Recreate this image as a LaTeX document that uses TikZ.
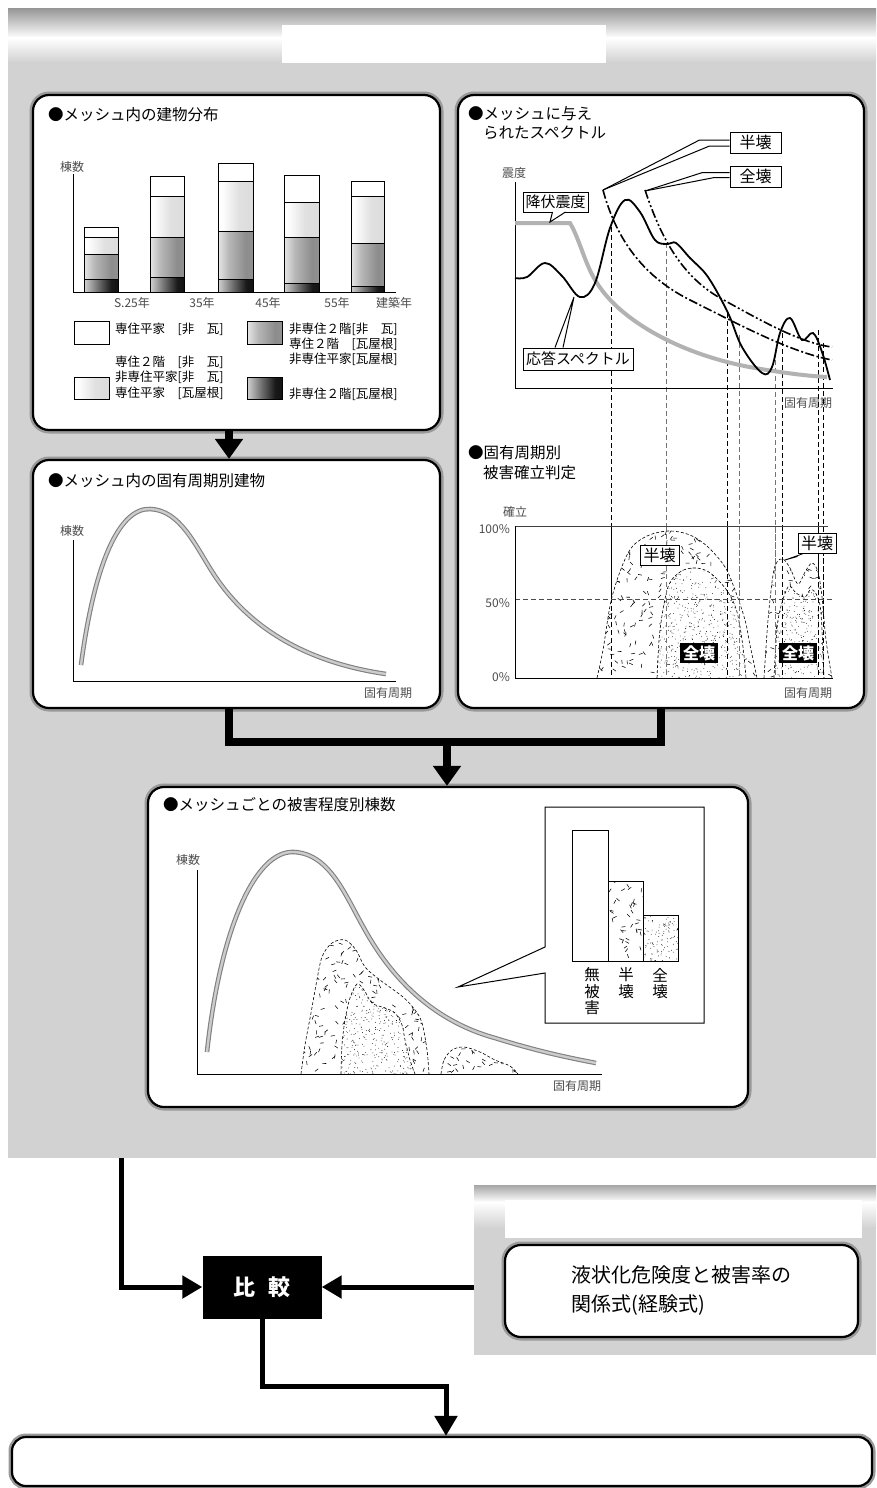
\documentclass[tikz,border=0pt]{standalone}
\usepackage{fontspec}
\setmainfont{Noto Sans CJK JP}
\usetikzlibrary{arrows.meta,calc}
\definecolor{bgg}{HTML}{D2D2D2}
\pgfdeclarehorizontalshading{shlight}{100bp}{color(0bp)=(white); color(30bp)=(white); color(55bp)=(black!12); color(100bp)=(black!16)}
\pgfdeclarehorizontalshading{shmed}{100bp}{color(0bp)=(white); color(22bp)=(black!6); color(40bp)=(black!28); color(65bp)=(black!45); color(100bp)=(black!38)}
\pgfdeclarehorizontalshading{shdark}{100bp}{color(0bp)=(white); color(22bp)=(black!12); color(45bp)=(black!55); color(65bp)=(black!90); color(100bp)=(black)}
\newcommand\rdash[5]{\foreach \k in {1,...,#5}{\pgfmathsetmacro\rx{#1+rnd*(#3-#1)}\pgfmathsetmacro\ry{#2+rnd*(#4-#2)}\pgfmathsetmacro\ra{rnd*180}\draw[line width=0.55pt] (\rx,\ry) -- ++(\ra:4pt);}}
\newcommand\rdots[5]{\foreach \k in {1,...,#5}{\pgfmathsetmacro\rx{#1+rnd*(#3-#1)}\pgfmathsetmacro\ry{#2+rnd*(#4-#2)}\fill (\rx,\ry) circle[radius=0.42pt];}}
\newcommand\halfblob[6]{%
  \fill[white] plot[smooth,tension=0.55] coordinates {#1} -- cycle;
  \begin{scope}
    \clip plot[smooth,tension=0.55] coordinates {#1} -- cycle;
    \rdash{#2}{#3}{#4}{#5}{#6}
  \end{scope}
  \draw[blobline] plot[smooth,tension=0.55] coordinates {#1};}
\newcommand\fullblob[6]{%
  \fill[white] plot[smooth,tension=0.55] coordinates {#1} -- cycle;
  \begin{scope}
    \clip plot[smooth,tension=0.55] coordinates {#1} -- cycle;
    \rdots{#2}{#3}{#4}{#5}{#6}
  \end{scope}
  \draw[blobline] plot[smooth,tension=0.55] coordinates {#1};}
\begin{document}
\begin{tikzpicture}[x=1pt,y=-1pt,
  panel/.style={draw=black, line width=2.2pt, fill=white, rounded corners=16pt, preaction={draw=black!40, line width=7pt}, inner sep=0pt},
  flow/.style={line width=8pt, -{Triangle[width=27pt,length=20pt]}},
  barline/.style={line width=8pt},
  flow2/.style={line width=5pt, -{Triangle[width=22pt,length=20pt]}},
  ttl/.style={font=\fontsize{15.5}{18}\selectfont, anchor=west, inner sep=0pt},
  ax/.style={font=\fontsize{12}{14}\selectfont, text=black!70, inner sep=0pt},
  lg/.style={font=\fontsize{12.5}{15}\selectfont, anchor=west, inner sep=0pt},
  axis/.style={line width=1pt, draw=black},
  sw/.style={draw=black, line width=0.8pt},
  gcurve/.style={draw=black!50, line width=1.1pt, double=black!20, double distance=2.4pt},
  blobline/.style={line width=0.6pt, dash pattern=on 3pt off 2pt},
  lbl/.style={draw=black, line width=1pt, fill=white, inner sep=0pt, font=\fontsize{16}{18}\selectfont},
  lblk/.style={fill=black, text=white, inner sep=0pt, font=\fontsize{16}{18}\selectfont\bfseries},
  hdc/.style={line width=1.6pt, dash pattern=on 9pt off 2.5pt on 2pt off 2.5pt},
  zdc/.style={line width=1.6pt, dash pattern=on 9pt off 2.5pt on 2pt off 2.5pt on 2pt off 2.5pt},
  vd/.style={line width=0.8pt, dash pattern=on 5pt off 3pt},
  inl/.style={font=\fontsize{15.5}{17}\selectfont, inner sep=0pt}]
\pgfmathsetseed{4242}
\useasboundingbox (0,0) rectangle (876,1488);
\fill[white] (0,0) rectangle (876,1488);
% backgrounds
\fill[bgg] (8,9) rectangle (876,1158);
\shade[top color=black!40, bottom color=white] (8,9) rectangle (876,38);
\shade[top color=white, bottom color=bgg] (8,38) rectangle (876,62);
\fill[white] (282,25) rectangle (606,63);
\fill[bgg] (474,1185) rectangle (876,1355);
\shade[top color=black!35, bottom color=white] (474,1185) rectangle (876,1202);
\shade[top color=white, bottom color=bgg] (474,1202) rectangle (876,1228);
\fill[white] (505,1200) rectangle (862,1238);

% panels
\node[panel, minimum width=407pt, minimum height=335pt] (p1) at (236.5,262.5) {};
\node[panel, minimum width=407pt, minimum height=248pt] (p2) at (236.5,584) {};
\node[panel, minimum width=406pt, minimum height=613pt] (p3) at (661,401.5) {};
\node[panel, minimum width=600pt, minimum height=320pt] (p4) at (448,947) {};
\node[panel, minimum width=353pt, minimum height=92pt, align=left, font=\fontsize{20}{29}\selectfont] (p5) at (681.5,1291) {液状化危険度と被害率の\\関係式(経験式)};
\node[panel, rounded corners=14pt, minimum width=860pt, minimum height=49pt] (p6) at (442,1461.5) {};

% connectors
\coordinate (jl) at (229,742);
\coordinate (jr) at (661,742);
\coordinate (jm) at (447,742);
\draw[flow] (p1.south -| jl) -- (p2.north -| jl);
\draw[barline] (p2.south -| jl) -- (jl) -- (jr) -- (p3.south);
\draw[flow] (jm) -- (p4.north -| jm);
\node[fill=black, text=white, minimum width=119pt, minimum height=63pt, inner sep=0pt, font=\fontsize{22}{24}\selectfont\bfseries] (cmp) at (262,1287) {比\hspace{0.55em}較};
\coordinate (lt) at (121,1158);
\coordinate (rt) at (474,1287);
\coordinate (bend) at (446,1386);
\draw[flow2] (lt) |- (cmp.west);
\draw[flow2] (rt) -- (cmp.east);
\draw[flow2] (cmp.south) |- (bend) -- (bend |- p6.north);

% ---------- P1 ----------
\node[ttl] (t1) at (48,115) {●メッシュ内の建物分布};
\node[ax] (y1) at (72,167) {棟数};
\draw[axis] (73,174) -- (73,292) -- (396,292);
\foreach \xa/\xb/\ya/\yb/\yc/\yd in {84/118/227/237/254/279, 150/184/176/196/237/277, 218/253/163/181/231/279, 284/319/175/202/237/283, 351/384/181/196/243/286}{
  \draw[sw, fill=white] (\xa,\ya) rectangle (\xb,\yb);
  \draw[sw, shading=shlight] (\xa,\yb) rectangle (\xb,\yc);
  \draw[sw, shading=shmed] (\xa,\yc) rectangle (\xb,\yd);
  \draw[sw, shading=shdark] (\xa,\yd) rectangle (\xb,292);
}
\draw[axis] (73,292) -- (396,292);
\node[ax] (xl1) at (132,303) {S.25年};
\node[ax] (xl2) at (202,303) {35年};
\node[ax] (xl3) at (268,303) {45年};
\node[ax] (xl4) at (337,303) {55年};
\node[ax] (xl5) at (394,303) {建築年};
\draw[sw, fill=white] (74,321) rectangle (109,344);
\draw[sw, shading=shmed] (247,321) rectangle (282,344);
\draw[sw, shading=shlight] (74,377) rectangle (109,399);
\draw[sw, shading=shdark] (247,377) rectangle (282,399);
\node[lg] (lg1) at (115,329) {専住平家　[非　瓦]};
\node[lg] (lg2) at (289,329) {非専住２階[非　瓦]};
\node[lg] (lg3) at (289,344) {専住２階　[瓦屋根]};
\node[lg] (lg4) at (289,359) {非専住平家[瓦屋根]};
\node[lg] (lg5) at (115,362) {専住２階　[非　瓦]};
\node[lg] (lg6) at (115,377) {非専住平家[非　瓦]};
\node[lg] (lg7) at (115,393) {専住平家　[瓦屋根]};
\node[lg] (lg8) at (289,394) {非専住２階[瓦屋根]};

% ---------- P2 ----------
\node[ttl] (t2) at (48,481) {●メッシュ内の固有周期別建物};
\node[ax] (y2) at (72,531) {棟数};
\draw[axis] (73,540) -- (73,681) -- (396,681);
\node[ax] (x2) at (388,693) {固有周期};
\draw[gcurve] (81,665) .. controls (95,560) and (120,508) .. (150,509) .. controls (180,510) and (195,545) .. (213,573) .. controls (240,615) and (290,660) .. (386,674);

% ---------- P3 upper ----------
\node[ttl] (t3) at (468,114) {●メッシュに与え};
\node[ttl] (t3b) at (483,133) {られたスペクトル};
\node[ax] (y3) at (514,173) {震度};
\node[ax] (x3) at (808,403) {固有周期};
\draw[vd] (611,227) -- (611,678);
\draw[vd, black!55] (666,243) -- (666,678);
\draw[vd] (727,313) -- (727,678);
\draw[vd, black!55] (739,335) -- (739,678);
\draw[vd, black!55] (775,352) -- (775,678);
\draw[vd] (782,333) -- (782,678);
\draw[vd] (818,330) -- (818,678);
\draw[vd] (823,343) -- (823,678);
\draw[axis] (515,182) -- (515,388) -- (833,388);
\draw[line width=4pt, black!30] (515,223) -- (570,223) .. controls (580,240) and (585,265) .. (597,283) .. controls (620,320) and (680,355) .. (755,368) .. controls (790,374) and (810,376) .. (827,377);
\draw[hdc] (603,190) .. controls (615,235) and (640,275) .. (690,300) .. controls (740,325) and (790,352) .. (832,360);
\draw[zdc] (645,190) .. controls (660,235) and (680,275) .. (720,298) .. controls (760,320) and (800,343) .. (832,347);
\draw[line width=1.8pt] plot[smooth, tension=0.6] coordinates {(515,278) (527,277) (545,263) (562,276) (580,297) (595,283) (610,228) (625,200) (640,212) (655,240) (668,244) (676,243) (690,258) (708,277) (728,313) (742,347) (762,373) (772,367) (780,333) (790,318) (802,340) (813,333) (822,352) (830,380)};
\node[lbl, minimum width=65pt, minimum height=20pt, font=\fontsize{15}{17}\selectfont] (kofuku) at (555.5,202) {降伏震度};
\fill[white] (552.5,211.5) -- (550,222) -- (565.5,211.5) -- cycle;
\draw[line width=1pt] (552.5,212) -- (550,222) -- (565.5,212);
\node[lbl, minimum width=51pt, minimum height=21pt] (hk1) at (755.5,142.5) {半壊};
\node[lbl, minimum width=51pt, minimum height=21pt] (zk1) at (755.5,176.5) {全壊};
\coordinate (tipH) at (603,190);
\coordinate (tipZ) at (645,191);
\draw[line width=1pt] ([yshift=2.5pt]hk1.west) -- ++(-30,0) -- (tipH);
\draw[line width=1pt] ([yshift=-3.5pt]hk1.west) -- ++(-20,0) -- (tipH);
\draw[line width=1pt] ([yshift=4pt]zk1.west) -- ++(-27,0) -- (tipZ);
\draw[line width=1pt] ([yshift=-1pt]zk1.west) -- ++(-15,0) -- (tipZ);
\node[lbl, minimum width=110pt, minimum height=22pt, font=\fontsize{15}{17}\selectfont] (oto) at (578,359) {応答スペクトル};
\coordinate (tipO) at (574,297);
\draw[line width=1pt] ([xshift=-23pt]oto.north) -- (tipO) -- ([xshift=-15pt]oto.north);

% ---------- P3 lower ----------
\node[ttl] (t4) at (468,453) {●固有周期別};
\node[ttl] (t4b) at (483,473) {被害確立判定};
\node[ax] (y4) at (515,512) {確立};
\node[ax, anchor=east] (p100) at (510,529) {100\%};
\node[ax, anchor=east] (p50) at (510,603) {50\%};
\node[ax, anchor=east] (p0) at (510,677) {0\%};
\node[ax] (x4) at (808,693) {固有周期};
\halfblob{(597,678) (603,650) (612,597) (628,553) (645,537) (668,531) (690,535) (708,547) (725,567) (735,590) (745,620) (750,645) (757,678)}{597}{530}{757}{678}{280}
\fullblob{(657,678) (660,630) (668,587) (680,572) (693,568) (705,570) (715,577) (728,592) (737,612) (743,647) (746,678)}{657}{567}{746}{678}{620}
\halfblob{(764,678) (768,620) (773,575) (777,562) (783,559) (790,568) (798,584) (805,572) (812,563) (818,572) (822,597) (826,640) (832,678)}{764}{558}{832}{678}{100}
\fullblob{(774,678) (778,620) (788,587) (796,593) (805,597) (810,590) (815,592) (820,605) (822,630) (824,678)}{774}{586}{824}{678}{290}
\foreach \vx/\vc in {611/black, 666/black!55, 727/black, 739/black!55, 775/black!55, 782/black, 818/black, 823/black}{
  \draw[vd, \vc] (\vx,526) -- (\vx,678);
}
\draw[line width=0.8pt, black!75] (515,526) -- (828,526);
\draw[vd, black!70] (515,599) -- (833,599);
\draw[axis] (515,526) -- (515,678) -- (833,678);
\node[lbl, minimum width=39pt, minimum height=20pt] (hk2) at (659.5,555) {半壊};
\node[lblk, minimum width=38pt, minimum height=20pt] (zk2) at (699,653) {全壊};
\node[lblk, minimum width=38pt, minimum height=20pt] (zk3) at (798,653) {全壊};
\node[lbl, minimum width=38pt, minimum height=20pt] (hk3) at (817,543) {半壊};
\coordinate (tipR) at (785,560);
\draw[line width=0.8pt] ([yshift=-3pt]hk3.south west) -- (tipR) -- ([xshift=6pt]hk3.south west);

% ---------- P4 ----------
\node[ttl] (t5) at (163,805) {●メッシュごとの被害程度別棟数};
\node[ax] (y5) at (188,860) {棟数};
\node[ax] (x5) at (577,1086) {固有周期};
\draw[gcurve] (207,1052) .. controls (220,930) and (255,850) .. (294,852) .. controls (330,854) and (345,895) .. (365,930) .. controls (390,975) and (430,1020) .. (495,1038) .. controls (540,1052) and (570,1058) .. (596,1063);
\halfblob{(301,1074) (305,1045) (311,1013) (316,985) (322,957) (332,943) (345,940) (356,950) (365,967) (380,980) (403,997) (415,1010) (422,1023) (427,1050) (429,1074)}{301}{939}{429}{1074}{220}
\fullblob{(341,1074) (342,1045) (345,1020) (350,998) (357,984) (364,990) (372,1003) (385,1008) (395,1013) (402,1025) (405,1040) (410,1060) (415,1074)}{341}{983}{415}{1074}{430}
\halfblob{(441,1074) (444,1060) (452,1050) (464,1047) (480,1052) (495,1060) (510,1066) (518,1074)}{441}{1046}{518}{1074}{32}
\draw[axis] (197,870) -- (197,1074) -- (602,1074);
% inset
\filldraw[fill=white, draw=black, line width=1pt] (545,947) -- (458,987) -- (545,973) -- (545,1023) -- (704,1023) -- (704,807) -- (545,807) -- cycle;
\fill[white] (608,881) rectangle (643,961);
\begin{scope}
  \clip (608,881) rectangle (643,961);
  \rdash{608}{881}{643}{961}{40}
\end{scope}
\fill[white] (643,915) rectangle (678,961);
\begin{scope}
  \clip (643,915) rectangle (678,961);
  \rdots{643}{915}{678}{961}{120}
\end{scope}
\draw[line width=1pt] (572,961) -- (572,830) -- (608,830) -- (608,961);
\draw[line width=1pt] (608,881) -- (643,881) -- (643,961);
\draw[line width=1pt] (643,915) -- (678,915) -- (678,961) -- (572,961);
\node[inl] (m1) at (592,975) {無};
\node[inl] (m2) at (592,992) {被};
\node[inl] (m3) at (592,1008) {害};
\node[inl] (h1) at (626,975) {半};
\node[inl] (h2) at (626,992) {壊};
\node[inl] (z1) at (660,975) {全};
\node[inl] (z2) at (660,992) {壊};
\end{tikzpicture}
\end{document}
